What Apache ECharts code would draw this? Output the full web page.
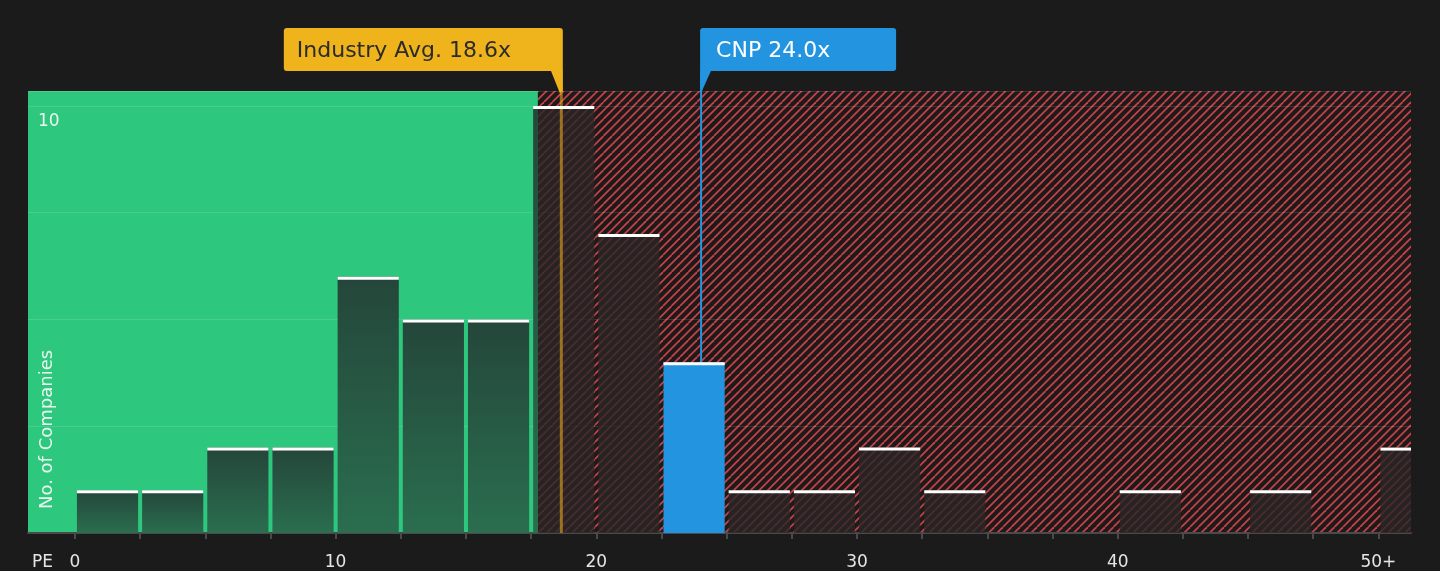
<!DOCTYPE html>
<html><head><meta charset="utf-8">
<script src="https://cdn.jsdelivr.net/npm/echarts@6/dist/echarts.min.js"></script>
<style>html,body{margin:0;padding:0;background:#1b1b1b;}#c{width:1440px;height:571px;}</style>
</head><body><div id="c"></div>
<script>
// ---- data ----
const binStarts = [0, 2.5, 5, 7.5, 10, 12.5, 15, 17.5, 20, 22.5, 25, 27.5, 30, 32.5, 35, 37.5, 40, 42.5, 45, 47.5, 50];
const binWidth = 2.5;
const counts = [1, 1, 2, 2, 6, 5, 5, 10, 7, 4, 1, 1, 2, 1, 0, 0, 1, 0, 1, 0, 2];
const highlightBin = 22.5;
const fairLimit = 17.76;
const annotations = [
  { name: 'Industry Avg.', value: 18.6 },
  { name: 'CNP', value: 24.0 }
];
const xTickValues = [0, 2.5, 5, 7.5, 10, 12.5, 15, 17.5, 20, 22.5, 25, 27.5, 30, 32.5, 35, 37.5, 40, 42.5, 45, 47.5, 50];
const xLabelValues = [0, 10, 20, 30, 40, 50];
const xLabelText = ['0', '10', '20', '30', '40', '50+'];
const yLabelShown = 10;

const FONT = 'DejaVu Sans';

function makeHatch() {
  const s = 17, c = document.createElement('canvas');
  c.width = s; c.height = s;
  const g = c.getContext('2d');
  g.fillStyle = '#1e1a1a'; g.fillRect(0, 0, s, s);
  g.strokeStyle = '#c4434a'; g.lineWidth = 1.8;
  for (let k = -3; k <= 3; k++) {
    const o = k * 8.5;
    g.beginPath(); g.moveTo(o, s); g.lineTo(o + s, 0); g.stroke();
  }
  return c;
}
const hatch = makeHatch();

const chart = echarts.init(document.getElementById('c'), null, { renderer: 'canvas' });

const barData = binStarts.map((s, i) => [s, s + binWidth, counts[i]]);

function barGeom(params, api) {
  const cs = params.coordSys;
  const s = api.value(0), e = api.value(1), v = api.value(2);
  const p0 = api.coord([s, 0]), p1 = api.coord([e, v]);
  const right = cs.x + cs.width;
  return { s, v, x0: p0[0] + 2, x1: Math.min(p1[0] - 2, right), yb: p0[1], yt: p1[1] };
}

const option = {
  backgroundColor: '#1b1b1b',
  animation: false,
  grid: { left: 28, right: 29, top: 91, bottom: 36 },
  xAxis: {
    type: 'value', min: -1.8, max: 51.25,
    splitLine: { show: false },
    axisLine: { show: true, lineStyle: { color: '#4a4a4a', width: 2 } },
    axisTick: { show: true, customValues: xTickValues, length: 6, lineStyle: { color: '#4a4a4a', width: 2 } },
    axisLabel: {
      customValues: xLabelValues, margin: 21, color: '#e6e6e6', fontSize: 17, fontFamily: FONT,
      formatter: v => { const i = xLabelValues.indexOf(v); return i >= 0 ? xLabelText[i] : ''; }
    }
  },
  yAxis: {
    type: 'value', min: 0, max: 10.35, interval: 2.5,
    axisLine: { show: false }, axisTick: { show: false },
    splitLine: { show: true, lineStyle: { color: 'rgba(255,255,255,0.12)', width: 1 } },
    axisLabel: {
      inside: true, margin: 10, color: '#eaf7f0', fontSize: 17, fontFamily: FONT,
      verticalAlign: 'top', padding: [7, 0, 0, 0],
      formatter: v => (v === yLabelShown ? String(v) : '')
    }
  },
  graphic: [
    { type: 'text', x: 32, y: 563, style: { text: 'PE', fill: '#e6e6e6', font: '17px ' + FONT, verticalAlign: 'middle' } },
    { type: 'text', x: 47, y: 509, rotation: Math.PI / 2, z: 10,
      style: { text: 'No. of Companies', fill: '#e8f7ee', font: '18px ' + FONT, align: 'left', verticalAlign: 'middle' } }
  ],
  series: [
    { // background zones
      type: 'custom', z: -1, silent: true,
      data: [[fairLimit, 0]], encode: { x: 0, y: 1 },
      renderItem(params, api) {
        const cs = params.coordSys;
        const gx = api.coord([api.value(0), 0])[0];
        return { type: 'group', children: [
          { type: 'rect', shape: { x: cs.x, y: cs.y, width: gx - cs.x, height: cs.height }, style: { fill: '#2ec77e' } },
          { type: 'rect', shape: { x: gx, y: cs.y, width: cs.x + cs.width - gx, height: cs.height }, style: { fill: { image: hatch, repeat: 'repeat' } } }
        ]};
      }
    },
    { // blue company line (under bars)
      type: 'custom', z: 1, silent: true,
      data: [[annotations[1].value, 0]], encode: { x: 0, y: 1 },
      renderItem(params, api) {
        const cs = params.coordSys;
        const x = api.coord([api.value(0), 0])[0] + 0.5;
        return { type: 'line', shape: { x1: x, y1: cs.y - 20, x2: x, y2: cs.y + cs.height }, style: { stroke: '#2394e0', lineWidth: 2 } };
      }
    },
    { // bars
      type: 'custom', z: 2, silent: true,
      data: barData, encode: { x: [0, 1], y: 2 },
      renderItem(params, api) {
        const g = barGeom(params, api);
        if (!g.v) return null;
        const gx = api.coord([fairLimit, 0])[0];
        const h = g.yb - g.yt;
        const children = [];
        if (g.s === highlightBin) {
          children.push({ type: 'rect', shape: { x: g.x0, y: g.yt, width: g.x1 - g.x0, height: h }, style: { fill: '#2394e0' } });
        } else {
          if (g.x0 < gx) {
            children.push({ type: 'rect', shape: { x: g.x0, y: g.yt, width: Math.min(g.x1, gx) - g.x0, height: h },
              style: { fill: new echarts.graphic.LinearGradient(0, 0, 0, 1, [{ offset: 0, color: '#24463a' }, { offset: 1, color: '#2a6e4f' }]) } });
          }
          if (g.x1 > gx) {
            const xs = Math.max(g.x0, gx);
            children.push({ type: 'rect', shape: { x: xs, y: g.yt, width: g.x1 - xs, height: h }, style: { fill: 'rgba(42,38,38,0.8)' } });
          }
        }
        return { type: 'group', children };
      }
    },
    { // industry average line (over bars)
      type: 'custom', z: 3, silent: true,
      data: [[annotations[0].value, 0]], encode: { x: 0, y: 1 },
      renderItem(params, api) {
        const cs = params.coordSys;
        const x = api.coord([api.value(0), 0])[0] + 1.5;
        return { type: 'line', shape: { x1: x, y1: cs.y - 20, x2: x, y2: cs.y + cs.height }, style: { stroke: 'rgba(240,178,28,0.55)', lineWidth: 3 } };
      }
    },
    { // white caps
      type: 'custom', z: 4, silent: true,
      data: barData, encode: { x: [0, 1], y: 2 },
      renderItem(params, api) {
        const g = barGeom(params, api);
        if (!g.v) return null;
        return { type: 'rect', shape: { x: g.x0, y: g.yt, width: g.x1 - g.x0, height: 3 }, style: { fill: '#ffffff' } };
      }
    },
    { // annotation labels
      type: 'custom', z: 5, silent: true,
      data: annotations.map(a => [a.value, 0]), encode: { x: 0, y: 1 },
      renderItem(params, api) {
        const cs = params.coordSys;
        const i = params.dataIndex;
        const a = annotations[i];
        const x = api.coord([api.value(0), 0])[0];
        const top = cs.y - 63, bot = cs.y - 20, hgt = bot - top;
        const txt = a.name + ' ' + a.value.toFixed(1) + 'x';
        const ty = (top + bot) / 2 + 2;
        if (i === 0) {
          const xr = x + 3, w = 279, xl = xr - w;
          return { type: 'group', children: [
            { type: 'rect', shape: { x: xl, y: top, width: w, height: hgt, r: [3, 3, 0, 3] }, style: { fill: '#efb31c' } },
            { type: 'polygon', shape: { points: [[xr - 12, bot - 0.5], [xr, bot - 0.5], [xr, cs.y], [xr - 3, cs.y + 2]] }, style: { fill: '#efb31c' } },
            { type: 'text', x: xl + 13, y: ty, style: { text: txt, fill: '#2b2b2b', font: '22px ' + FONT, verticalAlign: 'middle' } }
          ]};
        } else {
          const xl = x - 0.5, w = 196;
          return { type: 'group', children: [
            { type: 'rect', shape: { x: xl, y: top, width: w, height: hgt, r: [3, 3, 3, 0] }, style: { fill: '#2394e0' } },
            { type: 'polygon', shape: { points: [[xl, bot - 0.5], [xl + 11, bot - 0.5], [xl + 1, cs.y + 2], [xl, cs.y + 2]] }, style: { fill: '#2394e0' } },
            { type: 'text', x: xl + 16, y: ty, style: { text: txt, fill: '#ffffff', font: '22px ' + FONT, verticalAlign: 'middle' } }
          ]};
        }
      }
    }
  ]
};
chart.setOption(option);
</script>
</body></html>
